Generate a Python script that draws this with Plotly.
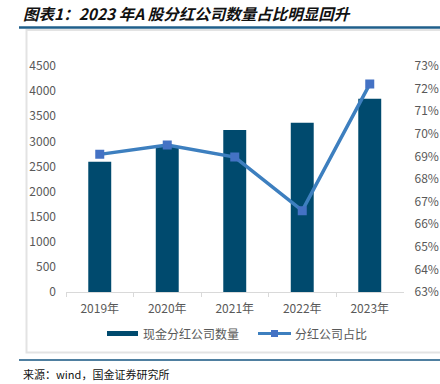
import plotly.graph_objects as go

years = ["2019年", "2020年", "2021年", "2022年", "2023年"]
div_companies = [2594, 2905, 3226, 3371, 3849]
div_ratio = [69.09, 69.50, 68.97, 66.60, 72.20]

W, H = 440, 384
def px(x):
    return x / W
def py(y):
    return 1 - y / H

BAR = "#004a6e"
LINE = "#3d7fbf"
MARK = "#4472c4"
TXT = "#595959"
FONT = "Noto Sans CJK SC"

fig = go.Figure()
fig.add_trace(go.Bar(x=years, y=div_companies, name="现金分红公司数量",
                     marker=dict(color=BAR, line=dict(width=0)), width=0.34,
                     yaxis="y", showlegend=False))
fig.add_trace(go.Scatter(x=years, y=div_ratio, name="分红公司占比", mode="lines+markers",
                         line=dict(color=LINE, width=3.5),
                         marker=dict(symbol="square", size=9, color=MARK),
                         yaxis="y2", showlegend=False))

shapes = [
    dict(type="rect", xref="paper", yref="paper", x0=px(26.5), x1=px(442), y0=py(352.5), y1=py(30),
         line=dict(color="#e3e3e3", width=2), fillcolor="rgba(0,0,0,0)", layer="below"),
    dict(type="line", xref="paper", yref="paper", x0=px(19), x1=px(441), y0=py(27.5), y1=py(27.5),
         line=dict(color="#1f5f8b", width=2.5)),
    dict(type="line", xref="paper", yref="paper", x0=px(19), x1=px(441), y0=py(360), y1=py(360),
         line=dict(color="#4f7fa0", width=2)),
    dict(type="rect", xref="paper", yref="paper", x0=px(107), x1=px(138), y0=py(336), y1=py(331),
         line=dict(width=0), fillcolor=BAR),
    dict(type="line", xref="paper", yref="paper", x0=px(258), x1=px(291), y0=py(333.5), y1=py(333.5),
         line=dict(color=LINE, width=3)),
    dict(type="rect", xref="paper", yref="paper", x0=px(271), x1=px(278), y0=py(337), y1=py(330),
         line=dict(width=0), fillcolor=MARK),
]

annotations = [
    dict(text="<b><i>图表1：2023 年A 股分红公司数量占比明显回升</i></b>", xref="paper", yref="paper",
         x=px(21), y=py(13), xanchor="left", yanchor="middle", showarrow=False,
         font=dict(family=FONT, size=15.5, color="#111111")),
    dict(text="现金分红公司数量", xref="paper", yref="paper", x=px(141), y=py(333.5),
         xanchor="left", yanchor="middle", showarrow=False, font=dict(family=FONT, size=12, color=TXT)),
    dict(text="分红公司占比", xref="paper", yref="paper", x=px(293), y=py(333.5),
         xanchor="left", yanchor="middle", showarrow=False, font=dict(family=FONT, size=12, color=TXT)),
    dict(text="来源：wind，国金证券研究所", xref="paper", yref="paper", x=px(21), y=py(374),
         xanchor="left", yanchor="middle", showarrow=False, font=dict(family=FONT, size=11, color="#111111")),
]

fig.update_layout(
    template="none",
    width=W, height=H, margin=dict(l=0, r=0, t=0, b=0, autoexpand=False),
    paper_bgcolor="white", plot_bgcolor="white",
    font=dict(family=FONT, size=11, color=TXT),
    showlegend=False,
    xaxis=dict(domain=[px(66), px(403.5)], automargin=False, showgrid=False, showline=True,
               linecolor="#d9d9d9", linewidth=1, ticks="outside", tickson="boundaries", ticklen=4,
               tickcolor="#d9d9d9", ticklabelstandoff=6, tickfont=dict(size=12, color=TXT)),
    yaxis=dict(domain=[py(292), py(66)], automargin=False, range=[0, 4500], dtick=500, showgrid=False,
               showline=False, zeroline=False, ticks="", ticklabelstandoff=9,
               tickfont=dict(size=12, color=TXT)),
    yaxis2=dict(overlaying="y", side="right", automargin=False, range=[63, 73], dtick=1, ticksuffix="%",
                showgrid=False, showline=False, zeroline=False, ticks="", ticklabelstandoff=10,
                tickfont=dict(size=12, color=TXT)),
    shapes=shapes, annotations=annotations,
)

fig.write_html("out.html", config={"displayModeBar": False},
               post_script="document.body.style.margin='0';document.body.style.overflow='hidden';")
